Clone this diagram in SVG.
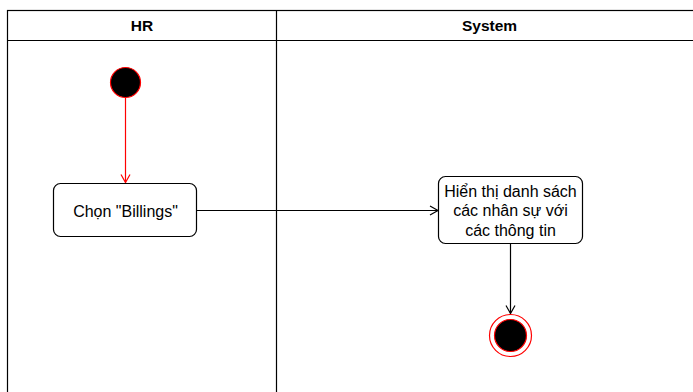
<svg xmlns="http://www.w3.org/2000/svg" width="693" height="392" viewBox="0 0 693 392">
<defs>
<style>
.lane{fill:none;stroke:#000;stroke-width:1.2}
.hdr{font-family:"Liberation Sans",Arial,sans-serif;font-size:15.5px;font-weight:bold;fill:#000;text-anchor:middle}
.lbl{font-family:"Liberation Sans",Arial,sans-serif;font-size:16px;fill:#000;text-anchor:middle}
.act{fill:#fff;stroke:#000;stroke-width:1.2}
</style>
<marker id="arrK" markerWidth="12" markerHeight="12" refX="9" refY="6" orient="auto" markerUnits="userSpaceOnUse">
<path d="M1,1.5 L9,6 L1,10.5" fill="none" stroke="#000" stroke-width="1.2"/>
</marker>
<marker id="arrR" markerWidth="12" markerHeight="12" refX="9" refY="6" orient="auto" markerUnits="userSpaceOnUse">
<path d="M1,1.5 L9,6 L1,10.5" fill="none" stroke="#ff0000" stroke-width="1.2"/>
</marker>
</defs>
<rect width="693" height="392" fill="#fff"/>
<g id="pool">
<rect class="lane" x="7.5" y="10.5" width="700" height="400"/>
<line class="lane" x1="7.5" y1="40.5" x2="700" y2="40.5"/>
<line class="lane" x1="276.5" y1="10.5" x2="276.5" y2="400"/>
<text class="hdr" x="142" y="30.5">HR</text>
<text class="hdr" x="489.5" y="30.5">System</text>
</g>
<g id="connectors">
<line x1="125.5" y1="98" x2="125.5" y2="182.5" stroke="#ff0000" stroke-width="1.2" marker-end="url(#arrR)"/>
<line x1="197" y1="210.5" x2="438" y2="210.5" stroke="#000" stroke-width="1.2" marker-end="url(#arrK)"/>
<line x1="510.5" y1="243.5" x2="510.5" y2="313.5" stroke="#000" stroke-width="1.2" marker-end="url(#arrK)"/>
</g>
<g id="start">
<circle cx="125.5" cy="82.5" r="15" fill="#000" stroke="#ff0000" stroke-width="1.2"/>
</g>
<g id="chon">
<rect class="act" x="53.5" y="183.5" width="143" height="53" rx="7"/>
<text class="lbl" x="125.5" y="216.5">Chọn "Billings"</text>
</g>
<g id="hienthi">
<rect class="act" x="438.5" y="176.5" width="144" height="67" rx="7"/>
<text class="lbl" x="510.5" y="196.5">Hiển thị danh sách</text>
<text class="lbl" x="510.5" y="216">các nhân sự với</text>
<text class="lbl" x="510.5" y="235.5">các thông tin</text>
</g>
<g id="end">
<circle cx="510.5" cy="335.5" r="21" fill="#fff" stroke="#ff0000" stroke-width="1.2"/>
<circle cx="510.5" cy="335.5" r="16" fill="#000" stroke="#ff0000" stroke-width="1.2"/>
</g>
</svg>
